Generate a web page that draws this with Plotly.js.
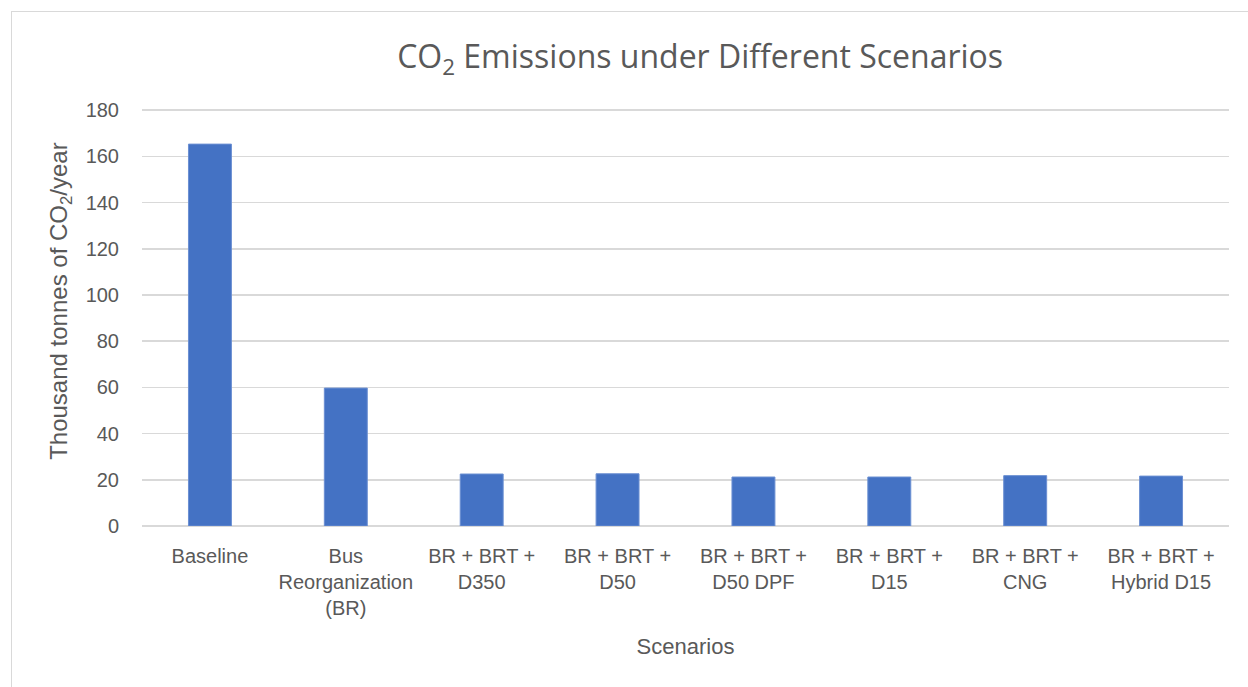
<!DOCTYPE html>
<html>
<head>
<meta charset="utf-8">
<script src="https://cdn.plot.ly/plotly-3.0.1.min.js"></script>
<style>
  html, body { margin: 0; padding: 0; background: #ffffff; overflow: hidden; }
  #frame { position: absolute; left: 11px; top: 11px; width: 1260px; height: 700px;
           border: 1px solid #d9d9d9; box-sizing: border-box; pointer-events: none; }
  #chart { position: absolute; left: 0; top: 0; width: 1248px; height: 687px; }
</style>
</head>
<body>
<div id="chart"></div>
<div id="frame"></div>
<script>
// Scenario labels (line breaks as shown under each bar)
const scenarios = [
  "Baseline",
  "Bus<br>Reorganization<br>(BR)",
  "BR + BRT +<br>D350",
  "BR + BRT +<br>D50",
  "BR + BRT +<br>D50 DPF",
  "BR + BRT +<br>D15",
  "BR + BRT +<br>CNG",
  "BR + BRT +<br>Hybrid D15"
];

// Annual CO2 emissions, thousand tonnes
const emissions = [165.3, 59.7, 22.5, 22.6, 21.2, 21.2, 21.8, 21.6];

const yTicks = [0, 20, 40, 60, 80, 100, 120, 140, 160, 180];

const textColor = "#595959";
const gridColor = "#d9d9d9";
const barColor = "#4472c4";

const trace = {
  type: "bar",
  x: scenarios,
  y: emissions,
  marker: { color: barColor, line: { color: "#6b8fd2", width: 1 } },
  hoverinfo: "x+y"
};

const layout = {
  width: 1248,
  height: 687,
  paper_bgcolor: "#ffffff",
  plot_bgcolor: "#ffffff",
  margin: { l: 142, r: 19, t: 109, b: 161 },
  bargap: 0.684,
  showlegend: false,
  font: { family: "Liberation Sans, Arial, sans-serif", size: 20, color: textColor },
  title: {
    text: "CO<sub>2</sub> Emissions under Different Scenarios",
    font: { family: "Open Sans, sans-serif", size: 32, color: textColor },
    xref: "container", yref: "container",
    x: 0.561, xanchor: "center",
    y: 0.917, yanchor: "middle"
  },
  xaxis: {
    type: "category",
    showgrid: false,
    showline: false,
    zeroline: false,
    ticks: "",
    ticklabelstandoff: 16,
    tickfont: { size: 20, color: textColor },
    title: { text: "Scenarios", font: { size: 22, color: textColor }, standoff: 20 }
  },
  yaxis: {
    // a hair above 180 so the top gridline is kept
    range: [0, 180.5],
    tickmode: "array",
    tickvals: yTicks,
    ticktext: yTicks.map(String),
    showgrid: true,
    gridcolor: gridColor,
    gridwidth: 1.5,
    zeroline: true,
    zerolinecolor: gridColor,
    zerolinewidth: 1.5,
    showline: false,
    ticks: "",
    ticklabelstandoff: 22,
    tickfont: { size: 20, color: textColor }
  },
  annotations: [{
    text: "Thousand tonnes of CO<sub>2</sub>/year",
    textangle: -90,
    xref: "paper", yref: "paper",
    x: -0.0745, y: 0.54,
    xanchor: "center", yanchor: "middle",
    showarrow: false,
    font: { size: 24, color: textColor }
  }]
};

Plotly.newPlot("chart", [trace], layout, { displayModeBar: false, staticPlot: true });
</script>
</body>
</html>
